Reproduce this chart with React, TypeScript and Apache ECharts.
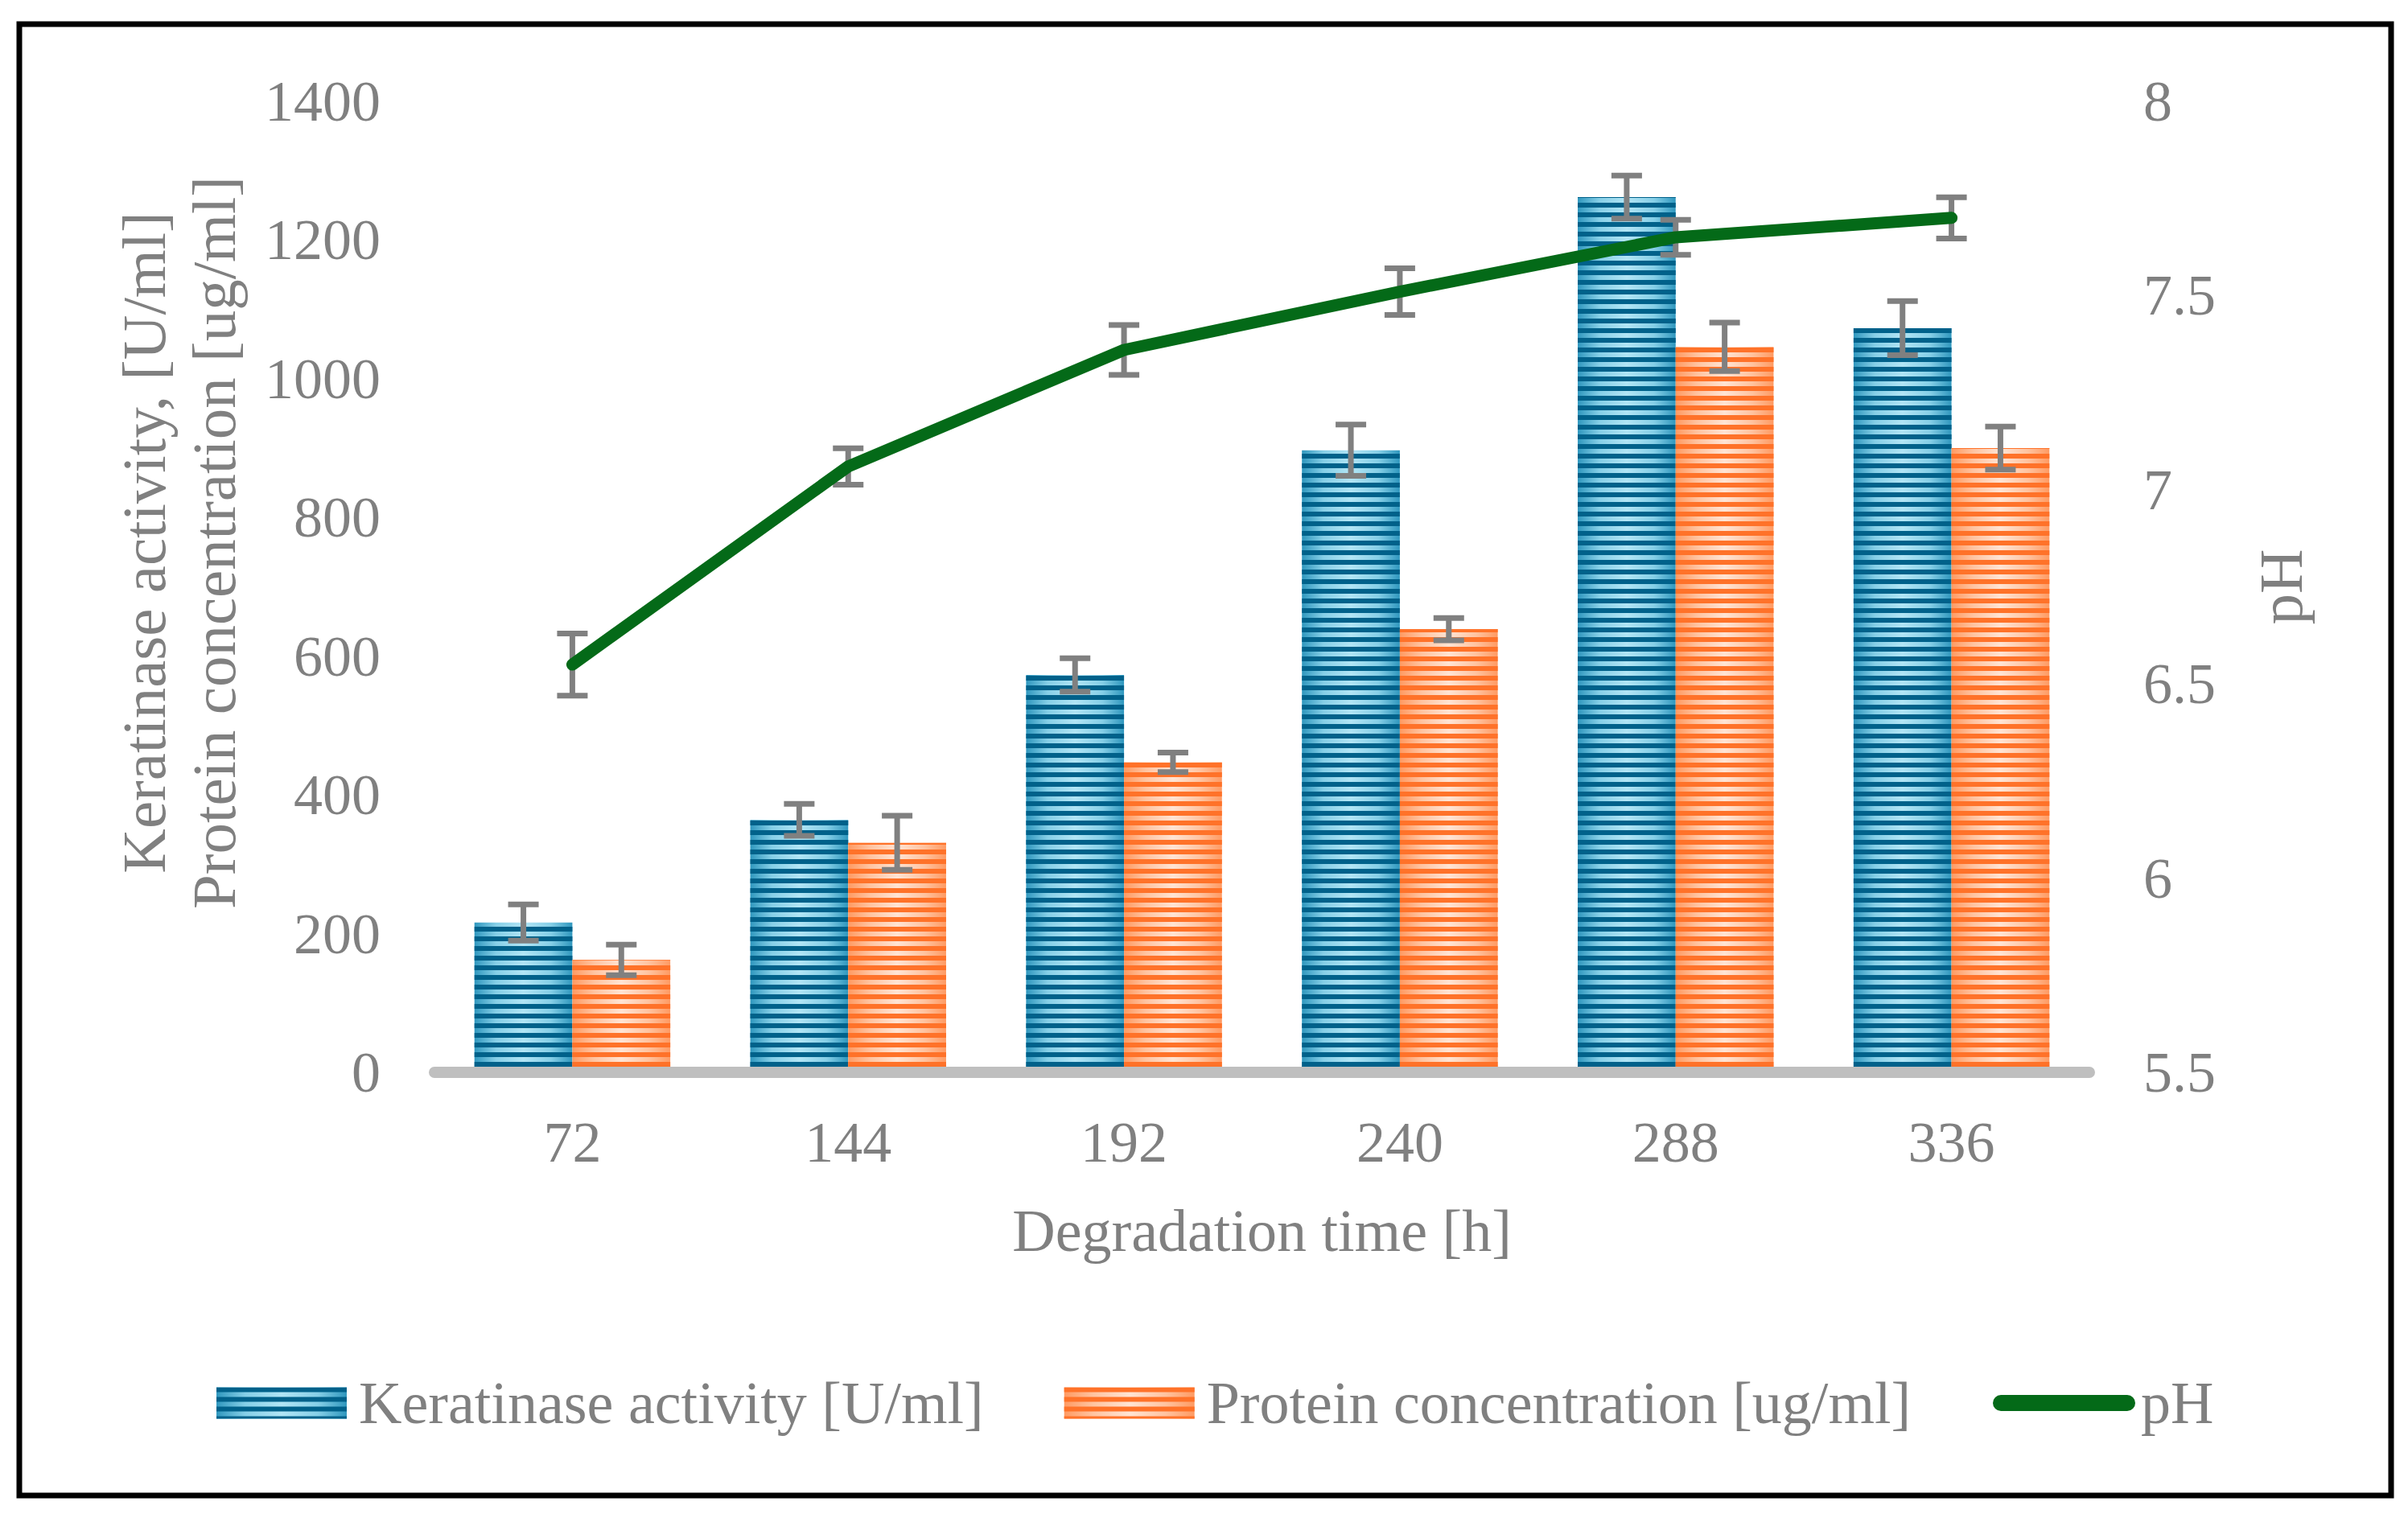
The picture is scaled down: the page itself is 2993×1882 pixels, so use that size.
import React, { useEffect, useRef } from "react";
import * as echarts from "echarts";

// ---- data ----
const categories = ["72", "144", "192", "240", "288", "336"];
const keratinase = [216, 364, 573, 897, 1262, 1073];
const keratinaseErr = [26, 23, 24, 37, 31, 39];
const protein = [162, 331, 447, 639, 1046, 900];
const proteinErr = [22, 39, 14, 16, 35, 31];
const ph = [6.55, 7.06, 7.36, 7.51, 7.65, 7.7];
const phErr = [0.08, 0.047, 0.064, 0.06, 0.045, 0.053];

const leftMin = 0;
const leftMax = 1400;
const leftInterval = 200;
const rightMin = 5.5;
const rightMax = 8;
const rightInterval = 0.5;

const NAME_K = "Keratinase activity [U/ml]";
const NAME_P = "Protein concentration [ug/ml]";
const NAME_PH = "pH";

const FONT = "Liberation Serif";
const GRAY = "#808080";
const GREEN = "#046a18";
const GAP = 0.29;

function errorRender(offset: number) {
  return (params: any, api: any) => {
    const i = api.value(0);
    const v = api.value(1);
    const e = api.value(2);
    const band = api.size([1, 0], [i, v])[0];
    const barW = (band * (1 - GAP)) / 2;
    const x = api.coord([i, v])[0] + (offset * barW) / 2;
    const yHi = api.coord([i, v + e])[1];
    const yLo = api.coord([i, v - e])[1];
    const half = 19;
    const style = { stroke: GRAY, lineWidth: 7, fill: null };
    return {
      type: "group",
      children: [
        { type: "line", shape: { x1: x, y1: yHi, x2: x, y2: yLo }, style },
        { type: "line", shape: { x1: x - half, y1: yHi, x2: x + half, y2: yHi }, style },
        { type: "line", shape: { x1: x - half, y1: yLo, x2: x + half, y2: yLo }, style },
      ],
    };
  };
}

function hGrad(edge: string, mid: string, center: string) {
  return new echarts.graphic.LinearGradient(1, 0, 0, 0, [
    { offset: 0, color: edge },
    { offset: 0.22, color: mid },
    { offset: 0.5, color: center },
    { offset: 0.78, color: mid },
    { offset: 1, color: edge },
  ]);
}

export default function App() {
  const ref = useRef<HTMLDivElement>(null);

  useEffect(() => {
    document.body.style.margin = "0";
    document.body.style.overflow = "hidden";
    if (!ref.current) return;
    const chart = echarts.init(ref.current, undefined, { renderer: "svg" });

    const txt = { color: GRAY, fontFamily: FONT };

    const option: any = {
      animation: false,
      backgroundColor: "#ffffff",
      textStyle: { fontFamily: FONT },
      grid: { left: 540, right: 2993 - 2597, top: 126, bottom: 1882 - 1333, containLabel: false },
      legend: [
        {
          data: [NAME_K, NAME_P],
          left: 269,
          top: 1704,
          padding: 0,
          icon: "rect",
          itemWidth: 162,
          itemHeight: 39,
          itemGap: 100,
          selectedMode: false,
          textStyle: { ...txt, fontSize: 74, lineHeight: 80, padding: [0, 0, 0, 10] },
        },
        {
          data: [
            {
              name: NAME_PH,
              icon: "path://M10,0 H167 A10,10 0 0 1 167,20 H10 A10,10 0 0 1 10,0 Z",
              itemStyle: { color: GREEN, borderWidth: 0 },
            },
          ],
          left: 2477,
          top: 1704,
          padding: 0,
          itemWidth: 177,
          itemHeight: 20,
          selectedMode: false,
          textStyle: { ...txt, fontSize: 74, lineHeight: 80, padding: [0, 0, 0, 2] },
        },
      ],
      xAxis: {
        type: "category",
        data: categories,
        z: 3,
        axisLine: { show: true, lineStyle: { color: "#bfbfbf", width: 14 } },
        axisTick: { show: false },
        axisLabel: { ...txt, fontSize: 72, lineHeight: 80, margin: 47 },
        name: "Degradation time [h]",
        nameLocation: "middle",
        nameGap: 157,
        nameTextStyle: { ...txt, fontSize: 74, lineHeight: 80 },
      },
      yAxis: [
        {
          type: "value",
          min: leftMin,
          max: leftMax,
          interval: leftInterval,
          axisLine: { show: false },
          axisTick: { show: false },
          splitLine: { show: false },
          axisLabel: { ...txt, fontSize: 72, margin: 67, formatter: (v: number) => String(v) },
          name: "Keratinase activity, [U/ml]\nProtein concentration [ug/ml]",
          nameLocation: "middle",
          nameRotate: 90,
          nameGap: 231,
          nameTextStyle: { ...txt, fontSize: 77, lineHeight: 87, padding: [0, 0, 0, 110] },
        },
        {
          type: "value",
          min: rightMin,
          max: rightMax,
          interval: rightInterval,
          position: "right",
          axisLine: { show: false },
          axisTick: { show: false },
          splitLine: { show: false },
          axisLabel: { ...txt, fontSize: 72, margin: 67, formatter: (v: number) => String(v) },
          name: "pH",
          nameLocation: "middle",
          nameRotate: 90,
          nameGap: 194,
          nameTextStyle: { ...txt, fontSize: 77, lineHeight: 88 },
        },
      ],
      series: [
        {
          name: NAME_K,
          type: "bar",
          data: keratinase,
          barGap: "0%",
          barCategoryGap: GAP * 100 + "%",
          z: 2,
          itemStyle: {
            color: hGrad("#2f97be", "#86cfe7", "#b2e5f5"),
            decal: {
              symbol: "rect",
              symbolSize: 1,
              color: "#00618a",
              dashArrayX: [1, 0],
              dashArrayY: [6, 6],
              rotation: 0,
            },
          },
        },
        {
          name: NAME_P,
          type: "bar",
          data: protein,
          barGap: "0%",
          barCategoryGap: GAP * 100 + "%",
          z: 2,
          itemStyle: {
            color: hGrad("#ff9a62", "#ffc3a0", "#ffe4d4"),
            decal: {
              symbol: "rect",
              symbolSize: 1,
              color: "#ff7229",
              dashArrayX: [1, 0],
              dashArrayY: [6, 6],
              rotation: 0,
            },
          },
        },
        {
          type: "custom",
          name: "kErr",
          z: 3,
          renderItem: errorRender(-1),
          encode: { x: 0, y: 1 },
          data: keratinase.map((v, i) => [i, v, keratinaseErr[i]]),
          silent: true,
        },
        {
          type: "custom",
          name: "pErr",
          z: 3,
          renderItem: errorRender(1),
          encode: { x: 0, y: 1 },
          data: protein.map((v, i) => [i, v, proteinErr[i]]),
          silent: true,
        },
        {
          type: "custom",
          name: "phErr",
          z: 3,
          yAxisIndex: 1,
          renderItem: errorRender(0),
          encode: { x: 0, y: 1 },
          data: ph.map((v, i) => [i, v, phErr[i]]),
          silent: true,
        },
        {
          name: NAME_PH,
          type: "line",
          yAxisIndex: 1,
          data: ph,
          z: 4,
          symbol: "none",
          itemStyle: { color: GREEN },
          lineStyle: { color: GREEN, width: 15, cap: "round", join: "round" },
        },
      ],
      graphic: [
        {
          type: "rect",
          shape: { x: 24, y: 30, width: 2948, height: 1829 },
          style: { fill: "none", stroke: "#000000", lineWidth: 7 },
          z: 10,
          silent: true,
        },
      ],
    };

    chart.setOption(option);
    return () => chart.dispose();
  }, []);

  return <div ref={ref} style={{ width: 2993, height: 1882 }} />;
}
